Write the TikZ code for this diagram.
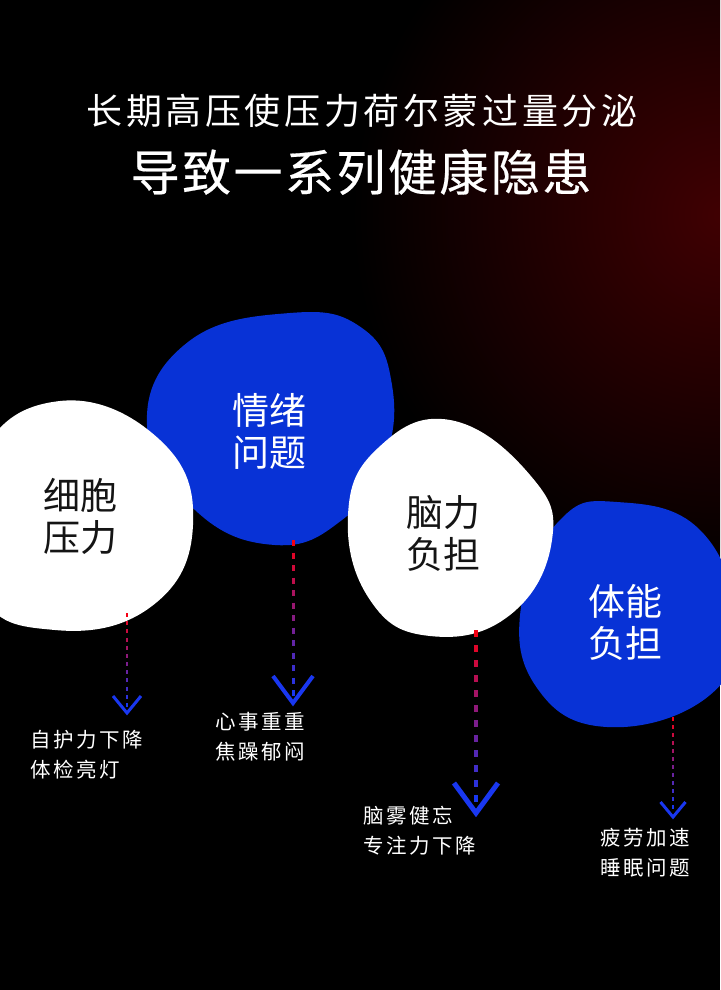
\documentclass[tikz,border=0pt]{standalone}
\usepackage{fontspec}
\usepackage{xcolor}
\usepackage{tikz}
\usetikzlibrary{positioning,calc}
\newfontfamily\cjk{Noto Sans CJK SC}
\newfontfamily\cjkheavy[FakeBold=0.4]{Noto Sans CJK SC}
\definecolor{blobblue}{RGB}{8,50,214}
\definecolor{glowred}{RGB}{64,0,2}
\definecolor{dashred}{RGB}{245,0,20}
\definecolor{dashblue}{RGB}{25,55,240}
\definecolor{inkdark}{RGB}{20,20,20}
\tikzset{
blue blob/.style={fill=blobblue},
white blob/.style={fill=white},
blob text/.style={align=center, inner sep=0pt, font=\cjk\fontsize{37}{42}\selectfont},
title/.style={text=white, inner sep=0pt},
note/.style={text=white, align=left, anchor=west, inner sep=0pt, font=\cjk\addfontfeatures{LetterSpace=12}\fontsize{20.5}{30}\selectfont},
chevron/.style={draw=dashblue, line width=#1, line join=miter}
}

\begin{document}
\begin{tikzpicture}[x=1pt, y=-1pt]
\useasboundingbox (0,0) rectangle (720,990);
% background with red glow
\fill[black] (0,0) rectangle (720,990);
\begin{scope}
\clip (0,0) rectangle (720,990);
\shade[inner color=glowred, outer color=black] (722,215) circle (370pt);
\end{scope}

\node[title, font=\cjk\addfontfeatures{LetterSpace=10}\fontsize{36}{40}\selectfont] (head) at (362,111) {长期高压使压力荷尔蒙过量分泌};
\node[title, font=\cjkheavy\addfontfeatures{LetterSpace=5}\fontsize{49}{54}\selectfont] (subhead) at (361,172) {导致一系列健康隐患};

% blobs
\fill[blue blob] plot[smooth cycle, tension=0.75] coordinates {(290,313) (362,328) (392,385) (384,462) (342,520) (275,545) (195,510) (147,425) (188,342)};
\fill[blue blob] plot[smooth cycle, tension=0.75] coordinates {(617,502) (700,530) (735,620) (710,695) (607,727) (535,685) (522,600) (560,520)};
\fill[white blob] plot[smooth cycle, tension=0.75] coordinates {(60,401) (160,440) (193,525) (152,606) (55,630) (-20,590) (-20,460)};
\fill[white blob] plot[smooth cycle, tension=0.75] coordinates {(450,420) (530,475) (552,540) (510,615) (430,636) (370,600) (348,515) (378,448)};

\node[blob text, text=inkdark] (cell) at (80,516) {细胞\\压力};
\node[blob text, text=white] (mood) at (269,431) {情绪\\问题};
\node[blob text, text=inkdark] (brain) at (443,533) {脑力\\负担};
\node[blob text, text=white] (body) at (625,622) {体能\\负担};

% arrows
\coordinate (cell-top) at (127,613); \coordinate (cell-end) at (127,703); \coordinate (cell-tip) at (127,713);
\coordinate (mood-top) at (293,540); \coordinate (mood-end) at (293,690); \coordinate (mood-tip) at (293,703);
\coordinate (brain-top) at (476,630); \coordinate (brain-end) at (476,795); \coordinate (brain-tip) at (476,813);
\coordinate (body-top) at (673,717); \coordinate (body-end) at (673,805); \coordinate (body-tip) at (673,817);
\foreach \a/\n/\w/\d/\hw/\hh/\lw in {cell/11/2.2/4/14/17/3, mood/12/3/6/20/27/4, brain/11/4/7/22/30/5, body/11/2.2/4/12.5/15/3}{
\foreach \i in {0,...,\n}{
\pgfmathtruncatemacro\p{100-100*\i/\n}
\draw[line width=\w pt, dashred!\p!dashblue] ($(\a-top)!{\i/\n}!(\a-end)$) -- ++(0,\d);
}
\draw[chevron=\lw pt] ($(\a-tip)+(-\hw,-\hh)$) -- (\a-tip) -- ($(\a-tip)+(\hw,-\hh)$);
}

\node[note] (cell note) at (30,755) {自护力下降\\体检亮灯};
\node[note] (mood note) at (215,737) {心事重重\\焦躁郁闷};
\node[note] (brain note) at (363,831) {脑雾健忘\\专注力下降};
\node[note] (body note) at (600,853) {疲劳加速\\睡眠问题};
\end{tikzpicture}
\end{document}
